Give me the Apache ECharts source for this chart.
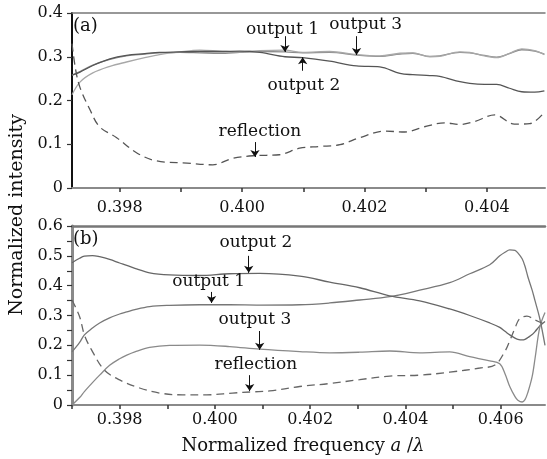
<!DOCTYPE html>
<html><head><meta charset="utf-8">
<script src="https://cdn.jsdelivr.net/npm/echarts@6/dist/echarts.min.js"></script>
<style>html,body{margin:0;padding:0;background:#fff}#c{width:547px;height:459px}</style>
</head><body><div id="c"></div><script>
const FONT = 'DejaVu Serif';

// ---------- panel (a) ----------
const aX = [0.39722,0.39735,0.39756,0.39784,0.39811,0.39841,0.39865,0.39898,0.39931,0.39963,0.39996,0.40029,0.40070,0.40099,0.40143,0.40187,0.40225,0.40258,0.40279,0.40307,0.40323,0.40356,0.40372,0.40396,0.40416,0.40437,0.40457,0.40478,0.40494];
const aOutput1 = [0.258,0.266,0.281,0.294,0.302,0.306,0.309,0.310,0.309,0.308,0.310,0.312,0.311,0.309,0.310,0.304,0.301,0.306,0.308,0.301,0.302,0.310,0.309,0.303,0.299,0.307,0.316,0.313,0.306];
const aOutput2 = [0.258,0.265,0.280,0.295,0.303,0.307,0.310,0.311,0.312,0.312,0.313,0.310,0.300,0.298,0.290,0.279,0.277,0.262,0.259,0.257,0.255,0.243,0.239,0.237,0.237,0.228,0.220,0.219,0.222];
const aOutput3 = [0.213,0.242,0.263,0.278,0.288,0.298,0.305,0.311,0.315,0.313,0.311,0.314,0.315,0.310,0.312,0.305,0.302,0.308,0.309,0.300,0.301,0.311,0.310,0.302,0.298,0.308,0.318,0.314,0.305];
const aReflX = [0.39722,0.39728,0.39735,0.39751,0.39767,0.39795,0.39828,0.39860,0.39910,0.39952,0.39985,0.40021,0.40061,0.40094,0.40127,0.40160,0.40192,0.40233,0.40266,0.40298,0.40331,0.40356,0.40380,0.40413,0.40445,0.40470,0.40495];
const aRefl = [0.330,0.270,0.230,0.180,0.140,0.115,0.080,0.062,0.057,0.053,0.068,0.074,0.076,0.091,0.095,0.099,0.115,0.130,0.128,0.140,0.149,0.145,0.152,0.167,0.146,0.147,0.175];

// ---------- panel (b) ----------
const bX = [0.39700,0.39716,0.39726,0.39743,0.39758,0.39779,0.39800,0.39815,0.39832,0.39863,0.39905,0.39968,0.40031,0.40094,0.40178,0.40241,0.40304,0.40367,0.40430,0.40493,0.40535,0.40577,0.40598,0.40609,0.40619,0.40630,0.40636,0.40645,0.40651,0.40657,0.40666,0.40672,0.40682,0.40693];
const bOutput1 = [0.178,0.210,0.235,0.258,0.275,0.292,0.305,0.312,0.320,0.330,0.334,0.336,0.336,0.335,0.336,0.342,0.352,0.363,0.385,0.410,0.440,0.470,0.500,0.512,0.520,0.518,0.510,0.490,0.465,0.430,0.385,0.350,0.290,0.200];
const bOutput2 = [0.477,0.492,0.499,0.501,0.497,0.488,0.476,0.468,0.458,0.443,0.436,0.434,0.440,0.441,0.432,0.412,0.393,0.366,0.349,0.322,0.300,0.275,0.260,0.247,0.235,0.224,0.220,0.218,0.220,0.226,0.236,0.246,0.265,0.280];
const bOutput3 = [0.000,0.025,0.045,0.075,0.100,0.133,0.155,0.167,0.178,0.193,0.200,0.201,0.196,0.187,0.179,0.175,0.177,0.181,0.175,0.178,0.162,0.148,0.138,0.105,0.062,0.028,0.016,0.010,0.018,0.042,0.095,0.155,0.260,0.310];
const bReflX = [0.39700,0.39716,0.39726,0.39741,0.39768,0.39800,0.39842,0.39884,0.39932,0.39983,0.40037,0.40079,0.40115,0.40178,0.40241,0.40304,0.40367,0.40430,0.40493,0.40556,0.40588,0.40609,0.40619,0.40630,0.40640,0.40655,0.40672,0.40693];
const bRefl = [0.352,0.296,0.235,0.185,0.117,0.084,0.057,0.040,0.034,0.034,0.040,0.044,0.047,0.062,0.072,0.085,0.097,0.100,0.110,0.124,0.134,0.180,0.215,0.258,0.290,0.298,0.285,0.270];

// ---------- ticks ----------
const xTicksA = [0.398,0.399,0.400,0.401,0.402,0.403,0.404];
const xLabelsA = [0.398,0.400,0.402,0.404];
const xTicksB = [0.397,0.398,0.399,0.400,0.401,0.402,0.403,0.404,0.405,0.406];
const xLabelsB = [0.398,0.400,0.402,0.404,0.406];
const yTicksA = [0,0.1,0.2,0.3,0.4];
const yLabelsA = [0,0.1,0.2,0.3,0.4];
const yTicksB = [0,0.05,0.1,0.15,0.2,0.25,0.3,0.35,0.4,0.45,0.5,0.55,0.6];
const yLabelsB = [0,0.1,0.2,0.3,0.4,0.5,0.6];

// ---------- annotations (data coordinates) ----------
const annA = [
  {text:'output 1', tx:0.40066, ty:0.363, ax:0.40070, y1:0.347, y2:0.311},
  {text:'output 3', tx:0.40202, ty:0.373, ax:0.40187, y1:0.347, y2:0.304},
  {text:'output 2', tx:0.40101, ty:0.235, ax:0.40099, y1:0.268, y2:0.299},
  {text:'reflection', tx:0.40029, ty:0.128, ax:0.40021, y1:0.105, y2:0.071}
];
const annB = [
  {text:'output 2', tx:0.40086, ty:0.544, ax:0.40071, y1:0.500, y2:0.443},
  {text:'output 1', tx:0.39987, ty:0.413, ax:0.39993, y1:0.379, y2:0.342},
  {text:'output 3', tx:0.40084, ty:0.285, ax:0.40094, y1:0.248, y2:0.185},
  {text:'reflection', tx:0.40086, ty:0.134, ax:0.40073, y1:0.100, y2:0.047}
];

const pairs = (xs, ys) => xs.map((x, i) => [x, ys[i]]);
const fmtX = v => v.toFixed(3);
const fmtY = v => v === 0 ? '0' : v.toFixed(1);

function xAxisMain(grid, min, max, ticks, labels, margin) {
  return {
    type:'value', gridIndex:grid, min:min, max:max, position:'bottom',
    axisLine:{show:true, onZero:false, lineStyle:{color:'#8a8a8a', width:2}},
    axisTick:{show:true, customValues:ticks, length:4, lineStyle:{color:'#333', width:1.5}},
    axisLabel:{customValues:labels, formatter:fmtX, margin:margin, color:'#111', fontFamily:FONT, fontSize:16},
    splitLine:{show:false}
  };
}
function xAxisTop(grid, min, max, w) {
  return {
    type:'value', gridIndex:grid, min:min, max:max, position:'top',
    axisLine:{show:true, onZero:false, lineStyle:{color:'#777', width:w}},
    axisTick:{show:false}, axisLabel:{show:false}, splitLine:{show:false}
  };
}
function yAxis(grid, max, ticks, labels, color, w) {
  return {
    type:'value', gridIndex:grid, min:0, max:max,
    axisLine:{show:true, onZero:false, lineStyle:{color:color, width:w}},
    axisTick:{show:true, customValues:ticks, length:5, lineStyle:{color:'#333', width:1.2}},
    axisLabel:{customValues:labels, formatter:fmtY, margin:9, color:'#111', fontFamily:FONT, fontSize:16},
    splitLine:{show:false}
  };
}

function lineSeries(name, data, xi, yi, color, dashed) {
  return {
    name:name, type:'line', xAxisIndex:xi, yAxisIndex:yi, data:data,
    showSymbol:false, smooth:0.35, silent:true,
    lineStyle:{color:color, width:1.3, type: dashed ? [8,5] : 'solid'}
  };
}

function annSeries(ann, xi, yi) {
  return {
    type:'line', xAxisIndex:xi, yAxisIndex:yi, data:[], silent:true,
    markLine:{
      silent:true, symbol:['none','arrow'], symbolSize:7, animation:false,
      label:{show:false},
      lineStyle:{color:'#111', width:1, type:'solid'},
      data: ann.map(a => [{coord:[a.ax, a.y1]}, {coord:[a.ax, a.y2]}])
    },
    markPoint:{
      silent:true, symbol:'circle', symbolSize:0, animation:false,
      label:{show:true, position:'inside', color:'#111', fontFamily:FONT, fontSize:17},
      data: ann.map(a => ({coord:[a.tx, a.ty], value:a.text, label:{formatter:a.text}}))
    }
  };
}

const chart = echarts.init(document.getElementById('c'), null, {renderer:'canvas'});
chart.setOption({
  animation:false,
  backgroundColor:'#fff',
  grid:[
    {left:72, right:2, top:13, height:175},
    {left:72, right:2, top:226, height:179}
  ],
  xAxis:[
    xAxisMain(0, 0.39722, 0.40495, xTicksA, xLabelsA, 12),
    xAxisTop(0, 0.39722, 0.40495, 1.5),
    xAxisMain(1, 0.397, 0.40693, xTicksB, xLabelsB, 7),
    xAxisTop(1, 0.397, 0.40693, 2.5)
  ],
  yAxis:[
    yAxis(0, 0.4, yTicksA, yLabelsA, '#111', 2),
    yAxis(1, 0.6, yTicksB, yLabelsB, '#8a8a8a', 3)
  ],
  series:[
    lineSeries('output 1', pairs(aX, aOutput1), 0, 0, '#8c8c8c', false),
    lineSeries('output 3', pairs(aX, aOutput3), 0, 0, '#a8a8a8', false),
    lineSeries('output 2', pairs(aX, aOutput2), 0, 0, '#555', false),
    lineSeries('reflection', pairs(aReflX, aRefl), 0, 0, '#555', true),
    annSeries(annA, 0, 0),
    lineSeries('output 1', pairs(bX, bOutput1), 2, 1, '#777', false),
    lineSeries('output 2', pairs(bX, bOutput2), 2, 1, '#666', false),
    lineSeries('output 3', pairs(bX, bOutput3), 2, 1, '#8a8a8a', false),
    lineSeries('reflection', pairs(bReflX, bRefl), 2, 1, '#666', true),
    annSeries(annB, 2, 1)
  ],
  graphic:[
    {type:'text', left:73, top:17, style:{text:'(a)', font:'18px "DejaVu Serif"', fill:'#111'}},
    {type:'text', left:73, top:230, style:{text:'(b)', font:'18px "DejaVu Serif"', fill:'#111'}},
    {type:'text', x:17, y:215, rotation:Math.PI/2, style:{text:'Normalized intensity', font:'19px "DejaVu Serif"', fill:'#111', align:'center', verticalAlign:'middle'}},
    {type:'text', x:303, y:446, style:{
      text:'Normalized frequency {i|a} /{i|λ}', font:'18px "DejaVu Serif"', fill:'#111', align:'center', verticalAlign:'middle',
      rich:{i:{font:'italic 18px "DejaVu Serif"', fill:'#111'}}
    }}
  ]
});
</script></body></html>
